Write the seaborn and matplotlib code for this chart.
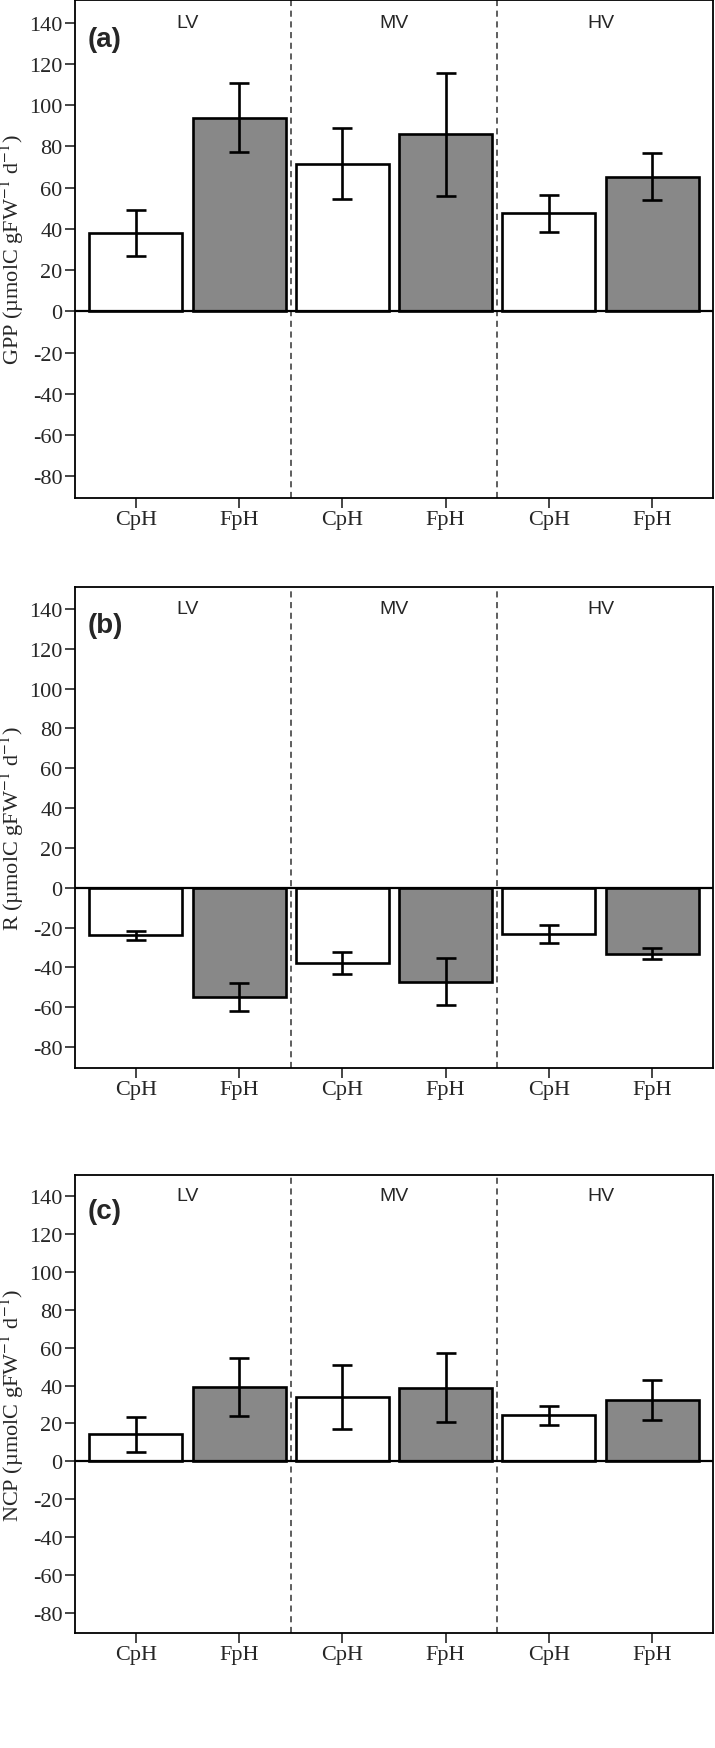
import pandas as pd
import matplotlib
matplotlib.use("Agg")
import matplotlib.pyplot as plt
import seaborn as sns

# Data
groups = ["LV", "LV", "MV", "MV", "HV", "HV"]
treatments = ["CpH", "FpH", "CpH", "FpH", "CpH", "FpH"]

gpp = [38, 94, 71.7, 85.8, 47.5, 65.4]
gpp_err = [11.3, 16.7, 17, 29.7, 9, 11.6]

resp = [-23.9, -54.8, -37.8, -47.2, -23.1, -33.1]
resp_err = [2.1, 7, 5.4, 11.7, 4.6, 2.6]

ncp = [14.2, 39.3, 34.1, 38.8, 24.4, 32.2]
ncp_err = [9.4, 15.2, 16.8, 18.1, 5, 10.6]

panels = [
    ("(a)", "GPP", gpp, gpp_err),
    ("(b)", "R", resp, resp_err),
    ("(c)", "NCP", ncp, ncp_err),
]

sns.set_style("ticks")
plt.rcParams["font.family"] = ["Liberation Serif", "DejaVu Serif"]
plt.rcParams["mathtext.fontset"] = "stix"
plt.rcParams["axes.unicode_minus"] = False

fill = {"CpH": "white", "FpH": "#888888"}

fig = plt.figure(figsize=(7.15, 17.49), dpi=100)
W, H = 715.0, 1749.0
# axes boxes in pixels: (top, bottom)
boxes = [(1, 499), (588, 1069), (1176, 1634)]
left_px, right_px = 75, 713

for (tag, name, vals, errs), (top, bot) in zip(panels, boxes):
    ax = fig.add_axes([left_px / W, 1 - bot / H, (right_px - left_px) / W, (bot - top) / H])
    df = pd.DataFrame({
        "key": [g + "-" + t for g, t in zip(groups, treatments)],
        "treat": treatments,
        "val": vals,
        "err": errs,
    })
    pal = {k: fill[t] for k, t in zip(df["key"], df["treat"])}
    sns.barplot(data=df, x="key", y="val", hue="key", palette=pal, legend=False,
                width=0.9, edgecolor="black", linewidth=1.9, errorbar=None,
                saturation=1, ax=ax)
    ax.errorbar(range(len(df)), df["val"], yerr=df["err"], fmt="none",
                ecolor="black", elinewidth=1.9, capsize=7.5, capthick=1.9, zorder=5)
    ax.axhline(0, color="black", lw=1.6, zorder=4)
    for xv in [1.5, 3.5]:
        ax.axvline(xv, color="#333333", lw=1.1, ls=(0, (4, 3)), zorder=1)
    ax.set_xlim(-0.59, 5.59)
    ax.set_ylim(-90.5, 151)
    ax.set_yticks(range(-80, 141, 20))
    ax.set_xticks(range(6))
    ax.set_xticklabels(treatments)
    ax.set_xlabel("")
    ax.set_ylabel(name + r" (µmolC gFW$^{-1}$ d$^{-1}$)", fontsize=16, labelpad=2)
    ax.tick_params(axis="both", labelsize=16, length=7, width=1.2, direction="out", pad=2)
    for sp in ax.spines.values():
        sp.set_visible(True)
        sp.set_linewidth(1.3)
        sp.set_color("black")
    ax.text(-0.47, 132, tag, fontsize=20, fontweight="bold",
            family="Liberation Sans", ha="left", va="center")
    for xv, lab in zip([0.5, 2.5, 4.5], ["LV", "MV", "HV"]):
        ax.text(xv, 140, lab, fontsize=14, family="Liberation Sans",
                ha="center", va="center")

fig.savefig("out.png", dpi=100)
